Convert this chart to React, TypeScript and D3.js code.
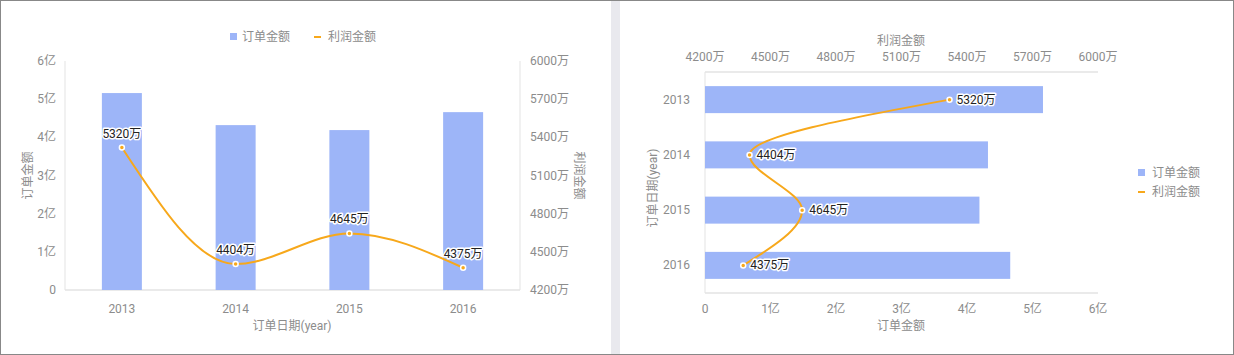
import React from "react";
import * as d3 from "d3";

const years = ["2013", "2014", "2015", "2016"];
const orderAmount = [5.16, 4.32, 4.19, 4.66]; // 亿
const profitAmount = [5320, 4404, 4645, 4375]; // 万
const orderTicks = [0, 1, 2, 3, 4, 5, 6];
const profitTicks = [4200, 4500, 4800, 5100, 5400, 5700, 6000];
const seriesNames = ["订单金额", "利润金额"];

const W = 1234;
const H = 355;
const BAR = "#9db5f8";
const LINE = "#f7a81b";
const AXIS = "#e3e3e3";
const TXT = "#8c8c8c";
const FONT = "Roboto, 'Noto Sans CJK SC', 'Noto Sans', sans-serif";

const fmtOrder = (v: number) => (v === 0 ? "0" : `${v}亿`);
const fmtProfit = (v: number) => `${v}万`;

function HaloLabel({ x, y, text, anchor }: { x: number; y: number; text: string; anchor: string }) {
  return (
    <g>
      <text x={x} y={y} textAnchor={anchor} dominantBaseline="central" fontSize={12} fontFamily={FONT}
        stroke="#fff" strokeWidth={3} strokeLinejoin="round" fill="#fff">{text}</text>
      <text x={x} y={y} textAnchor={anchor} dominantBaseline="central" fontSize={12} fontFamily={FONT}
        fill="#222">{text}</text>
    </g>
  );
}

function LeftChart() {
  const x0 = 65, x1 = 520, yTop = 61, yBot = 290;
  const xb = d3.scaleBand().domain(years).range([x0, x1]).paddingInner(0).paddingOuter(0);
  const yL = d3.scaleLinear().domain([0, 6]).range([yBot, yTop]);
  const yR = d3.scaleLinear().domain([4200, 6000]).range([yBot, yTop]);
  const bw = 40;
  const pts: [number, number][] = years.map((y, i) => [xb(y)! + xb.bandwidth() / 2, yR(profitAmount[i])]);
  const line = d3.line().curve(d3.curveMonotoneX)(pts) || "";
  return (
    <g>
      {/* legend */}
      <rect x={230} y={33} width={7} height={7} fill={BAR} />
      <text x={242} y={37} fontSize={12} fill={TXT} fontFamily={FONT} dominantBaseline="central">{seriesNames[0]}</text>
      <rect x={314} y={36} width={7} height={2} fill={LINE} />
      <text x={328} y={37} fontSize={12} fill={TXT} fontFamily={FONT} dominantBaseline="central">{seriesNames[1]}</text>

      {/* axes lines */}
      <line x1={x0} x2={x0} y1={yTop} y2={yBot} stroke={AXIS} />
      <line x1={x1} x2={x1} y1={yTop} y2={yBot} stroke={AXIS} />
      <line x1={x0} x2={x1} y1={yBot} y2={yBot} stroke={AXIS} strokeWidth={1.5} />

      {orderTicks.map((t) => (
        <text key={"l" + t} x={56} y={yL(t)} textAnchor="end" dominantBaseline="central" fontSize={12} fill={TXT} fontFamily={FONT}>{fmtOrder(t)}</text>
      ))}
      {profitTicks.map((t) => (
        <text key={"r" + t} x={530} y={yR(t)} textAnchor="start" dominantBaseline="central" fontSize={12} fill={TXT} fontFamily={FONT}>{fmtProfit(t)}</text>
      ))}
      {years.map((y) => (
        <text key={y} x={xb(y)! + xb.bandwidth() / 2} y={309} textAnchor="middle" dominantBaseline="central" fontSize={12} fill={TXT} fontFamily={FONT}>{y}</text>
      ))}
      <text x={292} y={326} textAnchor="middle" dominantBaseline="central" fontSize={12} fill={TXT} fontFamily={FONT}>订单日期(year)</text>
      <text transform={`translate(28,${(yTop + yBot) / 2}) rotate(-90)`} textAnchor="middle" dominantBaseline="central" fontSize={12} fill={TXT} fontFamily={FONT}>{seriesNames[0]}</text>
      <text transform={`translate(579,${(yTop + yBot) / 2}) rotate(90)`} textAnchor="middle" dominantBaseline="central" fontSize={12} fill={TXT} fontFamily={FONT}>{seriesNames[1]}</text>

      {years.map((y, i) => (
        <rect key={y} x={xb(y)! + xb.bandwidth() / 2 - bw / 2} y={yL(orderAmount[i])} width={bw} height={yBot - yL(orderAmount[i])} fill={BAR} />
      ))}
      <path d={line} fill="none" stroke={LINE} strokeWidth={2} />
      {pts.map((p, i) => (
        <circle key={i} cx={p[0]} cy={p[1]} r={2.5} fill={LINE} stroke="#fff" strokeWidth={1.5} />
      ))}
      {pts.map((p, i) => (
        <HaloLabel key={i} x={p[0]} y={p[1] - 14} text={fmtProfit(profitAmount[i])} anchor="middle" />
      ))}
    </g>
  );
}

function RightChart() {
  const x0 = 705, x1 = 1098, yTop = 72, yBot = 293;
  const yb = d3.scaleBand().domain(years).range([yTop, yBot]);
  const xL = d3.scaleLinear().domain([0, 6]).range([x0, x1]);
  const xT = d3.scaleLinear().domain([4200, 6000]).range([x0, x1]);
  const bh = 27;
  const pts: [number, number][] = years.map((y, i) => [xT(profitAmount[i]), yb(y)! + yb.bandwidth() / 2]);
  const line = d3.line().curve(d3.curveMonotoneY)(pts) || "";
  return (
    <g>
      <line x1={x0} x2={x1} y1={yTop} y2={yTop} stroke={AXIS} strokeWidth={1.5} />
      <line x1={x0} x2={x1} y1={yBot} y2={yBot} stroke={AXIS} strokeWidth={1.5} />
      <line x1={x0} x2={x0} y1={yTop} y2={yBot} stroke={AXIS} />

      {profitTicks.map((t) => (
        <text key={"t" + t} x={xT(t)} y={57} textAnchor="middle" dominantBaseline="central" fontSize={12} fill={TXT} fontFamily={FONT}>{fmtProfit(t)}</text>
      ))}
      {orderTicks.map((t) => (
        <text key={"b" + t} x={xL(t)} y={309} textAnchor="middle" dominantBaseline="central" fontSize={12} fill={TXT} fontFamily={FONT}>{fmtOrder(t)}</text>
      ))}
      {years.map((y) => (
        <text key={y} x={690} y={yb(y)! + yb.bandwidth() / 2} textAnchor="end" dominantBaseline="central" fontSize={12} fill={TXT} fontFamily={FONT}>{y}</text>
      ))}
      <text x={901} y={41} textAnchor="middle" dominantBaseline="central" fontSize={12} fill={TXT} fontFamily={FONT}>{seriesNames[1]}</text>
      <text x={901} y={326} textAnchor="middle" dominantBaseline="central" fontSize={12} fill={TXT} fontFamily={FONT}>{seriesNames[0]}</text>
      <text transform={`translate(653,188) rotate(-90)`} textAnchor="middle" dominantBaseline="central" fontSize={12} fill={TXT} fontFamily={FONT}>订单日期(year)</text>

      {years.map((y, i) => (
        <rect key={y} x={x0} y={yb(y)! + yb.bandwidth() / 2 - bh / 2} width={xL(orderAmount[i]) - x0} height={bh} fill={BAR} />
      ))}
      <path d={line} fill="none" stroke={LINE} strokeWidth={2} />
      {pts.map((p, i) => (
        <circle key={i} cx={p[0]} cy={p[1]} r={2.5} fill={LINE} stroke="#fff" strokeWidth={1.5} />
      ))}
      {pts.map((p, i) => (
        <HaloLabel key={i} x={p[0] + 7} y={p[1]} text={fmtProfit(profitAmount[i])} anchor="start" />
      ))}

      {/* legend */}
      <rect x={1138} y={169} width={7} height={7} fill={BAR} />
      <text x={1152} y={172.5} fontSize={12} fill={TXT} fontFamily={FONT} dominantBaseline="central">{seriesNames[0]}</text>
      <rect x={1138} y={191} width={7} height={2} fill={LINE} />
      <text x={1152} y={192} fontSize={12} fill={TXT} fontFamily={FONT} dominantBaseline="central">{seriesNames[1]}</text>
    </g>
  );
}

export default function App() {
  return (
    <div style={{ position: "fixed", left: 0, top: 0 }}>
      <svg width={W} height={H} style={{ display: "block" }}>
        <rect x={0} y={0} width={W} height={H} fill="#fff" />
        <rect x={611} y={0} width={9} height={H} fill="#e9e9ee" />
        <LeftChart />
        <RightChart />
        <rect x={0.5} y={0.5} width={W - 1} height={H - 1} fill="none" stroke="#888" />
      </svg>
    </div>
  );
}
